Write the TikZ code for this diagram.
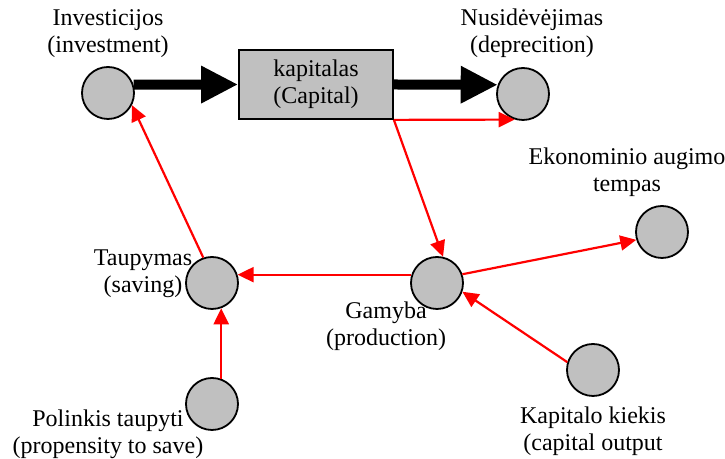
\documentclass[tikz,border=0pt]{standalone}
\usepackage{fontspec}
\setmainfont{LiberationSerif}[Extension=.ttf, UprightFont=*-Regular, BoldFont=*-Bold]
\usetikzlibrary{positioning,arrows.meta}
\definecolor{ecGray}{RGB}{192,192,192}
\definecolor{ecRed}{RGB}{255,0,0}

\begin{document}
\begin{tikzpicture}[x=0.5pt, y=0.5pt,
  font=\fontsize{12}{13.5}\selectfont,
  stock/.style={draw, line width=0.9pt, fill=ecGray, minimum width=77pt, minimum height=34.5pt, align=center, inner sep=0pt},
  var/.style={draw, line width=0.9pt, fill=ecGray, circle, minimum size=26pt, inner sep=0pt},
  lbl/.style={align=center, inner sep=0pt},
  flow/.style={line width=5pt, -{Triangle[length=18.5pt,width=17.5pt]}},
  link/.style={ecRed, line width=1.1pt, -{Triangle[length=8pt,width=7.5pt]}}]
  \useasboundingbox (0,0) rectangle (725,459);

  % Stock and flows
  \node[stock] (cap) at (316,374.5) {kapitalas\\(Capital)};
  \node[var] (inv) at (108,366) {};
  \node[var] (dep) at (523,365) {};

  % Auxiliary variables
  \node[var] (eko) at (662,227) {};
  \node[var] (tau) at (212,176) {};
  \node[var] (gam) at (437,176) {};
  \node[var] (pol) at (212,55) {};
  \node[var] (kap) at (593,89) {};

  % Labels
  \node[lbl] (invL) at (108,425) {Investicijos\\(investment)};
  \node[lbl] (depL) at (532,426) {Nusidėvėjimas\\(deprecition)};
  \node[lbl] (ekoL) at (627,287) {Ekonominio augimo\\tempas};
  \node[lbl] (tauL) at (143,185) {Taupymas\\(saving)};
  \node[lbl] (gamL) at (386,133) {Gamyba\\(production)};
  \node[lbl] (polL) at (108,25) {Polinkis taupyti\\(propensity to save)};
  \node[lbl] (kapL) at (593,28) {Kapitalo kiekis\\(capital output};

  % Flows
  \draw[flow] (inv.18) -- (cap.west);
  \draw[flow] (cap.east) -- (dep.160);

  % Causal links
  \draw[link] (cap.south east) -- (dep.-108);
  \draw[link] (cap.south east) -- (gam.77);
  \draw[link] (gam.162) -- (tau.18);
  \draw[link] (gam.19) -- (eko.197);
  \draw[link] (kap.163) -- (gam.-19);
  \draw[link] (tau.109) -- (inv.-27);
  \draw[link] (pol.70) -- (tau.-70);
\end{tikzpicture}
\end{document}
